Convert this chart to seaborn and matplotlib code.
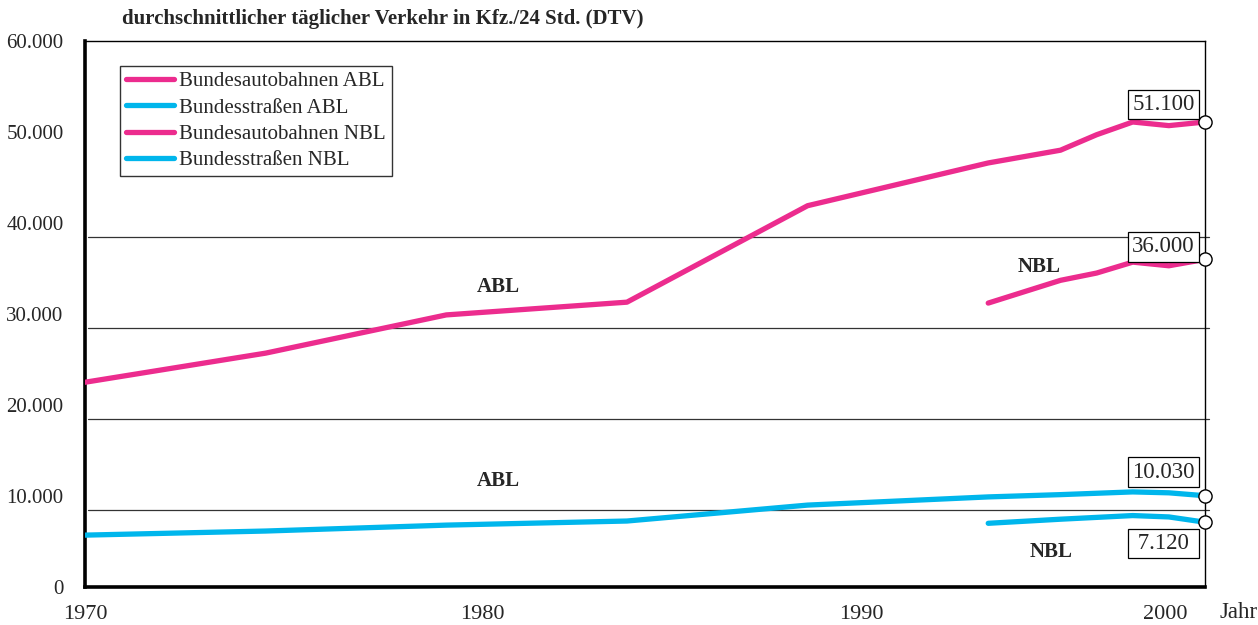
import matplotlib
matplotlib.use("Agg")
import matplotlib.pyplot as plt
import seaborn as sns
import pandas as pd

# ---- data ----
years_abl = [1970, 1975, 1980, 1985, 1990, 1995, 1997, 1998, 1999, 2000, 2001]
bab_abl = [22500, 25700, 29900, 31300, 41900, 46600, 48000, 49700, 51100, 50700, 51100]
bs_abl = [5700, 6150, 6800, 7250, 9000, 9900, 10150, 10300, 10450, 10350, 10030]
years_nbl = [1995, 1997, 1998, 1999, 2000, 2001]
bab_nbl = [31200, 33700, 34500, 35700, 35300, 36000]
bs_nbl = [7000, 7450, 7650, 7850, 7700, 7120]

series_names = ["Bundesautobahnen ABL", "Bundesstraßen ABL",
                "Bundesautobahnen NBL", "Bundesstraßen NBL"]
end_labels = ["51.100", "10.030", "36.000", "7.120"]
y_ticks = [0, 10000, 20000, 30000, 40000, 50000, 60000]
y_ticklabels = ["0", "10.000", "20.000", "30.000", "40.000", "50.000", "60.000"]
x_label_pos = [1970, 1981, 1991.5, 1999.9]
x_labels = ["1970", "1980", "1990", "2000"]
grid_levels = [8500, 18500, 28500, 38500]

PINK = "#EC2C8E"
BLUE = "#00B6EC"

sns.set_theme(style="white")
plt.rcParams["font.family"] = ["Liberation Serif", "DejaVu Serif"]

frames = []
for name, xs, ys in [(series_names[0], years_abl, bab_abl),
                     (series_names[1], years_abl, bs_abl),
                     (series_names[2], years_nbl, bab_nbl),
                     (series_names[3], years_nbl, bs_nbl)]:
    frames.append(pd.DataFrame({"Jahr": xs, "DTV": ys, "Serie": name}))
df = pd.concat(frames, ignore_index=True)
palette = {series_names[0]: PINK, series_names[1]: BLUE,
           series_names[2]: PINK, series_names[3]: BLUE}

fig = plt.figure(figsize=(12.58, 6.25), dpi=100)
ax = fig.add_axes([85 / 1258, 1 - 587 / 625, (1205 - 85) / 1258, (587 - 41) / 625])

for lvl in grid_levels:
    ax.axhline(lvl, color="#333333", lw=0.9, zorder=1, xmin=0.003, xmax=1.004, clip_on=False)

sns.lineplot(data=df, x="Jahr", y="DTV", hue="Serie", hue_order=series_names,
             palette=palette, linewidth=3.8, ax=ax, legend=False, zorder=3,
             estimator=None, sort=False)

ax.set_xlim(1970, 2001)
ax.set_ylim(0, 60000)
ax.set_xlabel("")
ax.set_ylabel("")

# end markers and value boxes (offset in points from the end point)
ends = [(bab_abl[-1], end_labels[0], 12.6),
        (bs_abl[-1], end_labels[1], 17.0),
        (bab_nbl[-1], end_labels[2], 9.0),
        (bs_nbl[-1], end_labels[3], -15.5)]
for y, lab, off in ends:
    ax.plot([2001], [y], marker="o", ms=9.5, mfc="white", mec="black", mew=1.0,
            zorder=5, clip_on=False)
    shown = lab if len(lab) >= 6 else " " + lab + " "
    ax.annotate(shown, xy=(1999.85, y), xytext=(0, off), textcoords="offset points",
                ha="center", va="center", fontsize=16.5, zorder=6,
                bbox=dict(boxstyle="square,pad=0.18", fc="white", ec="black", lw=0.9))

# region annotations
ax.text(1981.43, 33000, "ABL", fontsize=15, fontweight="bold", ha="center", va="center")
ax.text(1981.43, 11600, "ABL", fontsize=15, fontweight="bold", ha="center", va="center")
ax.text(1996.4, 35200, "NBL", fontsize=15, fontweight="bold", ha="center", va="center")
ax.text(1996.74, 3900, "NBL", fontsize=15, fontweight="bold", ha="center", va="center")

# axes styling
ax.set_yticks(y_ticks)
ax.set_yticklabels(y_ticklabels, fontsize=15)
ax.set_xticks(x_label_pos)
ax.set_xticklabels(x_labels, fontsize=16)
ax.set_xticks(list(range(1970, 2002)), minor=True)
ax.tick_params(axis="x", which="major", length=0, pad=13)
ax.tick_params(axis="x", which="minor", length=4, width=2.2, direction="out", color="black")
ax.tick_params(axis="y", which="major", length=4.5, width=3, direction="out", color="black", pad=11)
for s in ["left", "bottom"]:
    ax.spines[s].set_linewidth(2.6)
    ax.spines[s].set_color("black")
for s in ["top", "right"]:
    ax.spines[s].set_linewidth(1.0)
    ax.spines[s].set_color("black")
    ax.spines[s].set_visible(True)

# legend
handles = [plt.Line2D([], [], color=palette[n], lw=3.8) for n in series_names]
leg = ax.legend(handles, series_names, loc="upper left", bbox_to_anchor=(0.031, 0.955),
                fontsize=15, frameon=True, fancybox=False, edgecolor="black",
                borderpad=0.3, labelspacing=0.32, handlelength=2.3, handletextpad=0.25,
                borderaxespad=0)
leg.get_frame().set_linewidth(1.0)

fig.text(122 / 1258, 1 - 19 / 625, "durchschnittlicher täglicher Verkehr in Kfz./24 Std. (DTV)",
         fontsize=15, fontweight="bold", ha="left", va="center")
fig.text(1219 / 1258, 1 - 612 / 625, "Jahr", fontsize=16.5, ha="left", va="center")

fig.savefig("out.png", dpi=100)
